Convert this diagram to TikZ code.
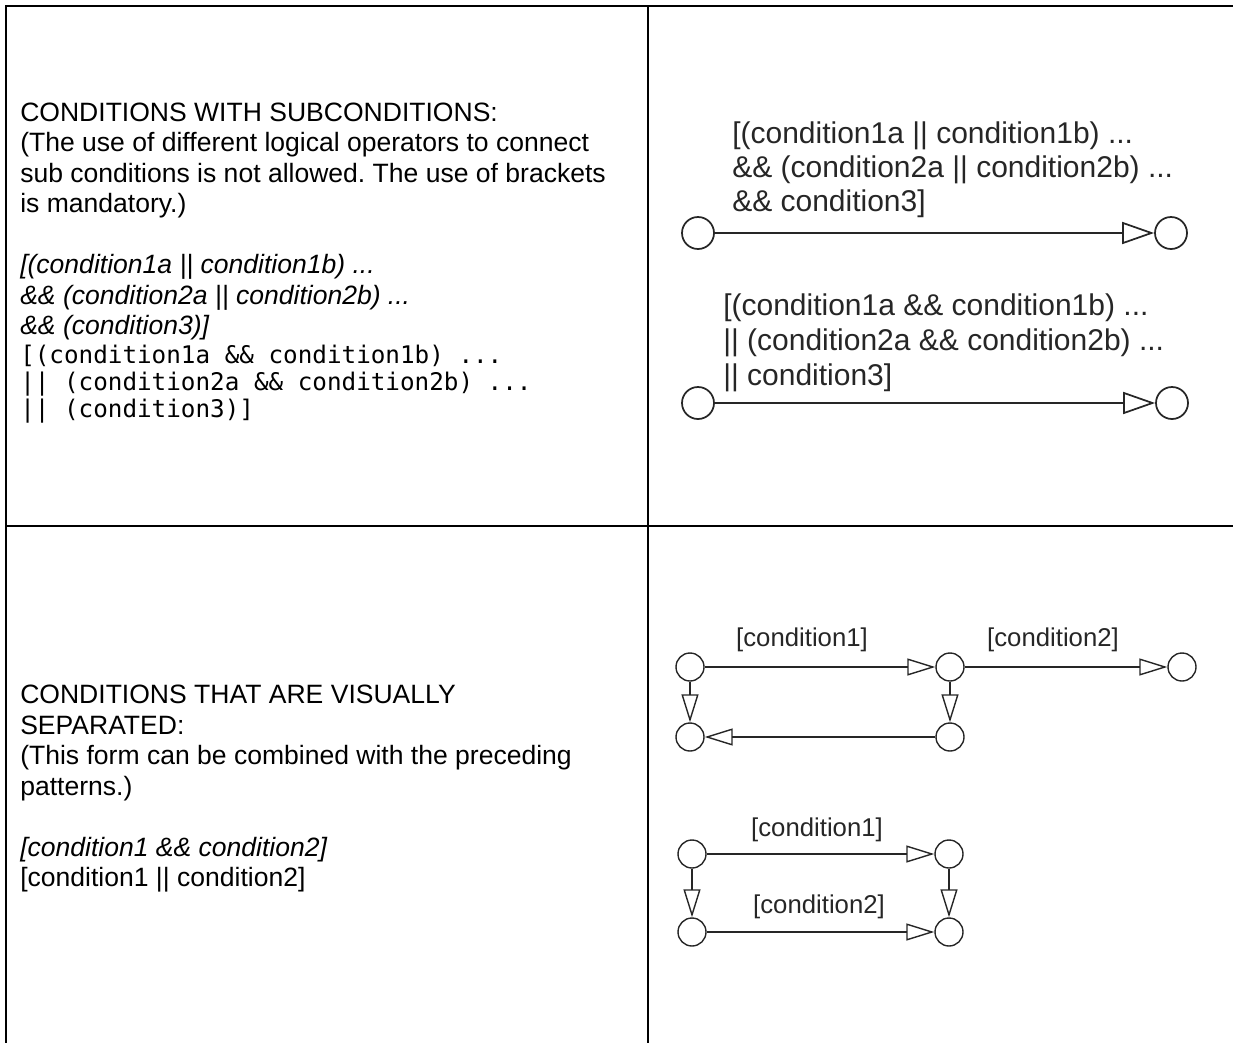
\documentclass[tikz,border=0pt]{standalone}
\usepackage{fontspec}
\setmainfont{Liberation Sans}
\newfontfamily\codefont{DejaVu Sans Mono}
\usepackage{tikz}
\usetikzlibrary{arrows.meta}
\frenchspacing

\begin{document}
\begin{tikzpicture}[
    x=0.75pt, y=-0.75pt,
    grid/.style={line width=1.5pt},
    txt/.style={anchor=base west, inner sep=0pt, font=\fontsize{19.9}{23}\selectfont},
    itx/.style={txt, font=\fontsize{19.9}{23}\selectfont\itshape},
    code/.style={anchor=base west, inner sep=0pt, font=\codefont\fontsize{18.2}{22}\selectfont},
    lbl/.style={anchor=base west, inner sep=0pt, font=\fontsize{22.5}{26}\selectfont, text=black!85},
    lbs/.style={anchor=base, inner sep=0pt, font=\fontsize{19.3}{22}\selectfont, text=black!85},
    st/.style={circle, draw=black!85, line width=1.3pt, minimum size=24pt, inner sep=0pt},
    sb/.style={circle, draw=black!85, line width=1.05pt, minimum size=21pt, inner sep=0pt},
    arrt/.style={draw=black!85, line width=1.3pt, -{Triangle[open, length=24pt, width=16.5pt]}},
    arrb/.style={draw=black!85, line width=1.05pt, -{Triangle[open, length=21pt, width=12.75pt]}}
  ]
  \useasboundingbox (0,0) rectangle (1233,1043);

  % table
  \draw[grid] (6,1043) -- (6,6) -- (1233,6);
  \draw[grid] (648,6) -- (648,1043);
  \draw[grid] (6,526) -- (1233,526);

  % left column, upper cell
  \node[txt] (head1) at (20,121) {CONDITIONS WITH SUBCONDITIONS:};
  \node[txt] (note1) at (20,151.5) {(The use of different logical operators to connect};
  \node[txt] (note2) at (20,182) {sub conditions is not allowed. The use of brackets};
  \node[txt] (note3) at (20,212.5) {is mandatory.)};
  \node[itx] (and1) at (20,273.5) {[(condition1a || condition1b) ...};
  \node[itx] (and2) at (20,304) {\&\& (condition2a || condition2b) ...};
  \node[itx] (and3) at (20,334.5) {\&\& (condition3)]};
  \node[code] (or1) at (20,363) {[(condition1a \&\& condition1b) ...};
  \node[code] (or2) at (20,390) {|| (condition2a \&\& condition2b) ...};
  \node[code] (or3) at (20,417) {|| (condition3)]};

  % left column, lower cell
  \node[txt] (head2) at (20,703.5) {CONDITIONS THAT ARE VISUALLY};
  \node[txt] (head2b) at (20,734) {SEPARATED:};
  \node[txt] (note4) at (20,764.5) {(This form can be combined with the preceding};
  \node[txt] (note5) at (20,795) {patterns.)};
  \node[itx] (and4) at (20,856) {[condition1 \&\& condition2]};
  \node[txt] (or4) at (20,886.5) {[condition1 || condition2]};

  % upper right: one transition each
  \node[lbl] (la1) at (732,143) {[(condition1a || condition1b) ...};
  \node[lbl] (la2) at (732,177) {\&\& (condition2a || condition2b) ...};
  \node[lbl] (la3) at (732,211) {\&\& condition3]};
  \node[st] (a1) at (698,233) {};
  \node[st] (a2) at (1171,233) {};
  \draw[arrt] (a1) -- (a2);

  \node[lbl] (lo1) at (723,315) {[(condition1a \&\& condition1b) ...};
  \node[lbl] (lo2) at (723,350) {|| (condition2a \&\& condition2b) ...};
  \node[lbl] (lo3) at (723,385) {|| condition3]};
  \node[st] (o1) at (698,403) {};
  \node[st] (o2) at (1172,403) {};
  \draw[arrt] (o1) -- (o2);

  % lower right: chained conditions
  \node[sb] (p1) at (690,667) {};
  \node[sb] (p2) at (950,667) {};
  \node[sb] (p3) at (1182,667) {};
  \node[sb] (p4) at (690,737) {};
  \node[sb] (p5) at (950,737) {};
  \node[lbs] (pc1) at (802,646) {[condition1]};
  \node[lbs] (pc2) at (1053,646) {[condition2]};
  \draw[arrb] (p1) -- (p2);
  \draw[arrb] (p2) -- (p3);
  \draw[arrb] (p1) -- (p4);
  \draw[arrb] (p2) -- (p5);
  \draw[arrb] (p5) -- (p4);

  % lower right: parallel conditions
  \node[sb] (q1) at (692,854) {};
  \node[sb] (q2) at (949,854) {};
  \node[sb] (q3) at (692,932) {};
  \node[sb] (q4) at (949,932) {};
  \node[lbs] (qc1) at (817,836) {[condition1]};
  \node[lbs] (qc2) at (819,913) {[condition2]};
  \draw[arrb] (q1) -- (q2);
  \draw[arrb] (q3) -- (q4);
  \draw[arrb] (q1) -- (q3);
  \draw[arrb] (q2) -- (q4);
\end{tikzpicture}
\end{document}
